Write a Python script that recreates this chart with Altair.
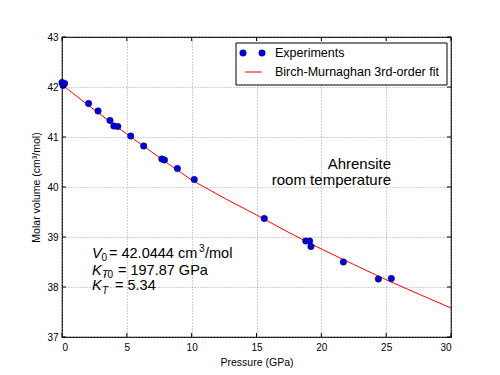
import altair as alt
import pandas as pd

exp_pressure = [0.0, 0.08, 0.2, 2.05, 2.78, 3.70, 4.0, 4.3, 5.3, 6.3, 7.7, 7.9,
                8.9, 10.2, 15.6, 18.8, 19.1, 19.2, 21.7, 24.4, 25.4]
exp_volume = [42.09, 42.03, 42.07, 41.67, 41.52, 41.33, 41.22, 41.21, 41.02, 40.82,
              40.56, 40.54, 40.37, 40.15, 39.37, 38.92, 38.92, 38.81, 38.50, 38.16, 38.17]

# Birch-Murnaghan fit curve
fit_pressure = [0, 2.5, 5, 7.5, 10, 12.5, 15, 17.5, 20, 22.5, 25, 27.5, 30]
fit_volume = [42.044, 41.54, 41.06, 40.59, 40.14, 39.78, 39.44, 39.09, 38.76, 38.45,
              38.145, 37.86, 37.58]

x_ticks = [0, 5, 10, 15, 20, 25, 30]
y_ticks = [37, 38, 39, 40, 41, 42, 43]

W, H = 389, 300
FONT = "Liberation Sans"

xs = alt.Scale(domain=[0, 30], nice=False)
ys = alt.Scale(domain=[37, 43], nice=False)

exp_df = pd.DataFrame({"p": exp_pressure, "v": exp_volume})
fit_df = pd.DataFrame({"p": fit_pressure, "v": fit_volume})
xt_df = pd.DataFrame({"p": x_ticks})
yt_df = pd.DataFrame({"v": y_ticks})
one = pd.DataFrame({"a": [0]})

grid_kw = dict(grid=True, gridDash=[1, 2], gridColor="#888888", gridWidth=0.8,
               tickSize=0, domain=False, labelFont=FONT, labelFontSize=10,
               labelColor="black", titleFont=FONT, titleFontSize=10.5,
               titleFontWeight="normal", titleColor="black")

x_axis = alt.Axis(values=x_ticks, title="Pressure (GPa)", labelPadding=5,
                  titlePadding=5, **grid_kw)
y_axis = alt.Axis(values=y_ticks, title="Molar volume (cm³/mol)", labelPadding=4,
                  titlePadding=5, **grid_kw)

X = alt.X("p:Q", scale=xs, axis=x_axis)
Y = alt.Y("v:Q", scale=ys, axis=y_axis)

fit_line = alt.Chart(fit_df).mark_line(color="#ff0000", strokeWidth=1).encode(x=X, y=Y)

points = alt.Chart(exp_df).mark_circle(size=42, opacity=1, color="#0000d8",
                                       stroke="#000060", strokeWidth=0.5).encode(x=X, y=Y)

# inward tick marks
tk = dict(color="black", strokeWidth=1)
xb = alt.Chart(xt_df).mark_rule(**tk).encode(x=X, y=alt.value(H), y2=alt.value(H - 4))
xtp = alt.Chart(xt_df).mark_rule(**tk).encode(x=X, y=alt.value(0), y2=alt.value(4))
yl = alt.Chart(yt_df).mark_rule(**tk).encode(y=Y, x=alt.value(0), x2=alt.value(4))
yr = alt.Chart(yt_df).mark_rule(**tk).encode(y=Y, x=alt.value(W), x2=alt.value(W - 4))


def txt(s, x, y, size=14.5, italic=False, align="left", font=FONT):
    return alt.Chart(one).mark_text(
        text=s, font=font, fontSize=size, align=align, baseline="alphabetic",
        fontStyle="italic" if italic else "normal", color="black"
    ).encode(x=alt.value(x), y=alt.value(y))


# annotation
ann = [
    txt("Ahrensite", 329, 132, 15, align="right"),
    txt("room temperature", 329, 148, 15, align="right"),
    # line 1
    txt("V", 30, 221, 14.5, italic=True),
    txt("0", 39.5, 224, 10),
    txt("= 42.0444 cm", 47, 221, 14.5),
    txt("3", 137, 215, 10),
    txt("/mol", 143, 221, 14.5),
    # line 2
    txt("K", 30, 238, 14.5, italic=True),
    txt("T", 40, 241, 10, italic=True),
    txt("0", 45.5, 241, 10),
    txt("= 197.87 GPa", 56, 238, 14.5),
    # line 3
    txt("K", 30, 253, 14.5, italic=True),
    txt("′", 41.5, 246, 13, font="DejaVu Sans"),
    txt("T", 40, 257, 10, italic=True),
    txt("= 5.34", 53, 253, 14.5),
]

# legend
leg_box = alt.Chart(one).mark_rect(fill="white", stroke="black", strokeWidth=1).encode(
    x=alt.value(174), x2=alt.value(385), y=alt.value(6), y2=alt.value(48))
leg_dots = alt.Chart(pd.DataFrame({"lx": [181, 200]})).mark_circle(
    size=42, opacity=1, color="#0000d8", stroke="#000060", strokeWidth=0.5).encode(
    x=alt.X("lx:Q", scale=None, axis=None), y=alt.value(16))
leg_line = alt.Chart(one).mark_rule(color="#ff0000", strokeWidth=1).encode(
    x=alt.value(183), x2=alt.value(200), y=alt.value(35))
leg_txt = [
    txt("Experiments", 213, 20, 12.5),
    txt("Birch-Murnaghan 3rd-order fit", 213, 39, 12.5),
]

chart = alt.layer(
    fit_line, points, xb, xtp, yl, yr, *ann, leg_box, leg_dots, leg_line, *leg_txt
).properties(
    width=W, height=H,
    background="white",
    autosize=alt.AutoSizeParams(type="none"),
    padding={"left": 62, "top": 37, "right": 49, "bottom": 38},
).configure_view(
    stroke="black", strokeWidth=1.2
)

chart.save("out.html", embed_options={"renderer": "svg", "actions": False})
